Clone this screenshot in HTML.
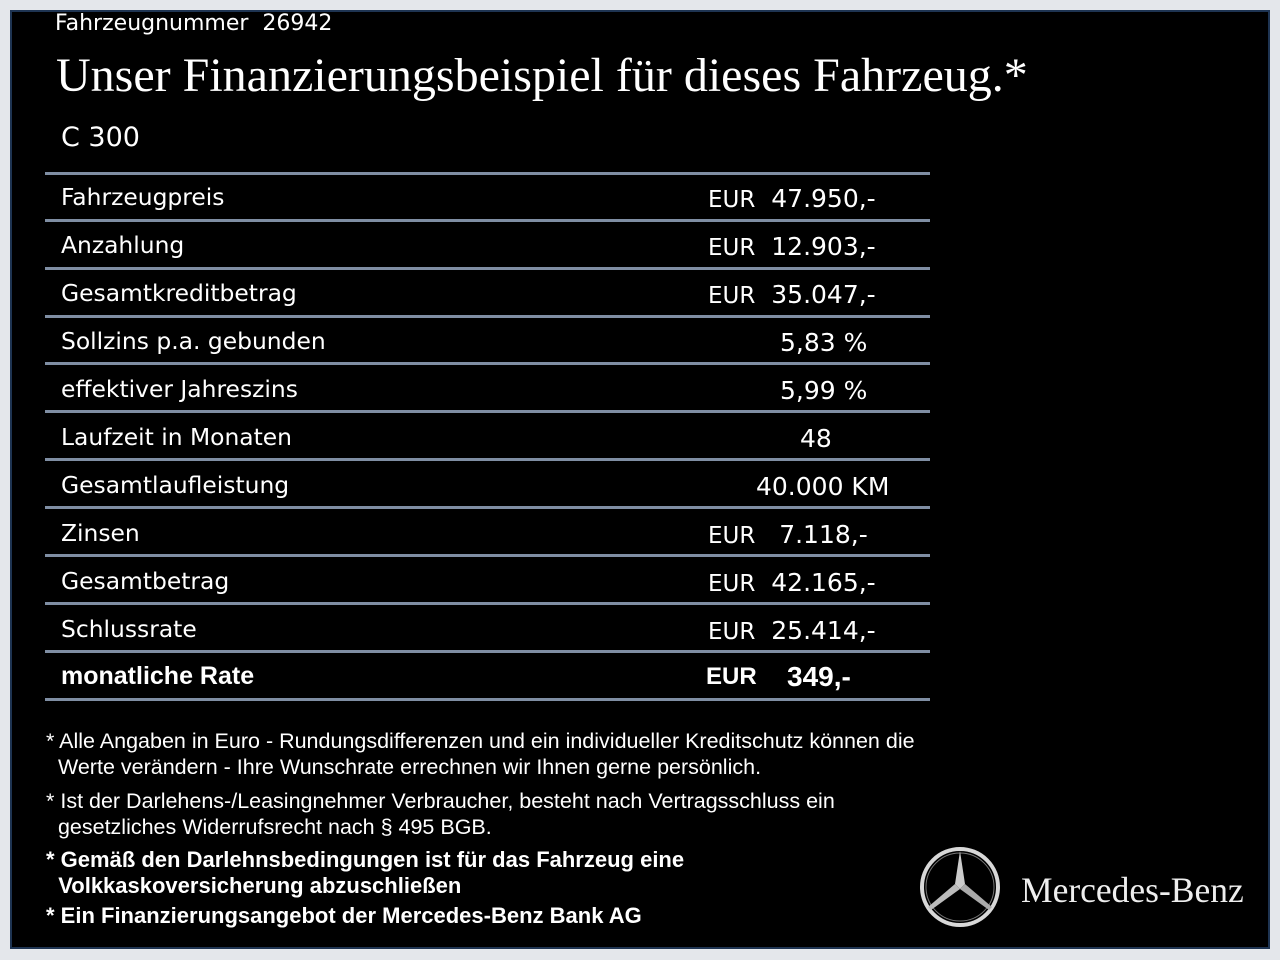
<!DOCTYPE html>
<html><head><meta charset="utf-8"><style>
body{margin:0;width:1280px;height:960px;background:#e4e7eb;position:relative;overflow:hidden;font-family:"DejaVu Sans","Liberation Sans",sans-serif;color:#fff}
#box{position:absolute;left:10px;top:10px;width:1256px;height:935px;background:#000;border:2px solid #1e3452}
.t{position:absolute;white-space:nowrap}
.l{position:absolute;left:45px;width:885px;height:3px;background:#7f8ea3}
.lab{position:absolute;left:61px;font-size:23.4px;white-space:nowrap}
.val{position:absolute;font-size:25px;white-space:nowrap}
.fn{position:absolute;left:46px;font-family:"Liberation Sans",sans-serif;font-size:21.5px;line-height:26px;white-space:nowrap}
</style></head><body>
<div id="box"></div>
<div class="t" style="left:55px;top:11px;font-size:22px">Fahrzeugnummer&nbsp; 26942</div>
<div class="t" style="left:56px;top:48px;font-family:'Liberation Serif',serif;font-size:48px">Unser Finanzierungsbeispiel für dieses Fahrzeug.*</div>
<div class="t" style="left:61px;top:122px;font-size:27px">C 300</div>
<div class="l" style="top:172px"></div>
<div class="l" style="top:219px"></div>
<div class="l" style="top:267px"></div>
<div class="l" style="top:315px"></div>
<div class="l" style="top:362px"></div>
<div class="l" style="top:410px"></div>
<div class="l" style="top:458px"></div>
<div class="l" style="top:506px"></div>
<div class="l" style="top:554px"></div>
<div class="l" style="top:602px"></div>
<div class="l" style="top:650px"></div>
<div class="l" style="top:698px"></div>

<div class="lab" style="top:183px">Fahrzeugpreis</div><div class="val" style="left:708px;top:184px"><span style="font-size:23px">EUR</span>&nbsp; 47.950,-</div>
<div class="lab" style="top:231px">Anzahlung</div><div class="val" style="left:708px;top:232px"><span style="font-size:23px">EUR</span>&nbsp; 12.903,-</div>
<div class="lab" style="top:279px">Gesamtkreditbetrag</div><div class="val" style="left:708px;top:280px"><span style="font-size:23px">EUR</span>&nbsp; 35.047,-</div>
<div class="lab" style="top:327px">Sollzins p.a. gebunden</div><div class="val" style="left:780px;top:328px">5,83 %</div>
<div class="lab" style="top:375px">effektiver Jahreszins</div><div class="val" style="left:780px;top:376px">5,99 %</div>
<div class="lab" style="top:423px">Laufzeit in Monaten</div><div class="val" style="left:800px;top:424px">48</div>
<div class="lab" style="top:471px">Gesamtlaufleistung</div><div class="val" style="left:756px;top:472px">40.000 KM</div>
<div class="lab" style="top:519px">Zinsen</div><div class="val" style="left:708px;top:520px"><span style="font-size:23px">EUR</span>&nbsp;&nbsp; 7.118,-</div>
<div class="lab" style="top:567px">Gesamtbetrag</div><div class="val" style="left:708px;top:568px"><span style="font-size:23px">EUR</span>&nbsp; 42.165,-</div>
<div class="lab" style="top:615px">Schlussrate</div><div class="val" style="left:708px;top:616px"><span style="font-size:23px">EUR</span>&nbsp; 25.414,-</div>
<div class="lab" style="top:662px;font-weight:bold;font-family:'Liberation Sans',sans-serif;font-size:25px">monatliche Rate</div><div class="val" style="left:706px;top:662px;font-weight:bold;font-family:'Liberation Sans',sans-serif"><span style="font-size:24px">EUR</span><span style="position:absolute;left:81px;top:-1px;font-size:28px">349,-</span></div>

<div class="fn" style="top:728px">* Alle Angaben in Euro - Rundungsdifferenzen und ein individueller Kreditschutz können die<br>&nbsp;&nbsp;Werte verändern - Ihre Wunschrate errechnen wir Ihnen gerne persönlich.</div>
<div class="fn" style="top:788px">* Ist der Darlehens-/Leasingnehmer Verbraucher, besteht nach Vertragsschluss ein<br>&nbsp;&nbsp;gesetzliches Widerrufsrecht nach § 495 BGB.</div>
<div class="fn" style="top:847px;font-weight:bold;font-size:22px">* Gemäß den Darlehnsbedingungen ist für das Fahrzeug eine<br>&nbsp;&nbsp;Volkkaskoversicherung abzuschließen</div>
<div class="fn" style="top:903px;font-weight:bold;font-size:22px">* Ein Finanzierungsangebot der Mercedes-Benz Bank AG</div>

<svg style="position:absolute;left:918px;top:845px" width="84" height="84" viewBox="0 0 84 84">
<circle cx="42" cy="42" r="38" fill="none" stroke="#d8d8d8" stroke-width="4"/>
<circle cx="42" cy="42" r="34" fill="none" stroke="#777" stroke-width="1"/>
<polygon points="42,6 47,39 42,44 37,39" fill="#ccc"/>
<polygon points="42,44 47,39 74,62 71,65" fill="#aaa"/>
<polygon points="42,44 37,39 10,62 13,65" fill="#bbb"/>
</svg>
<div class="t" style="left:1021px;top:869px;font-family:'Liberation Serif',serif;font-size:35.5px;color:#eee">Mercedes-Benz</div>
</body></html>
